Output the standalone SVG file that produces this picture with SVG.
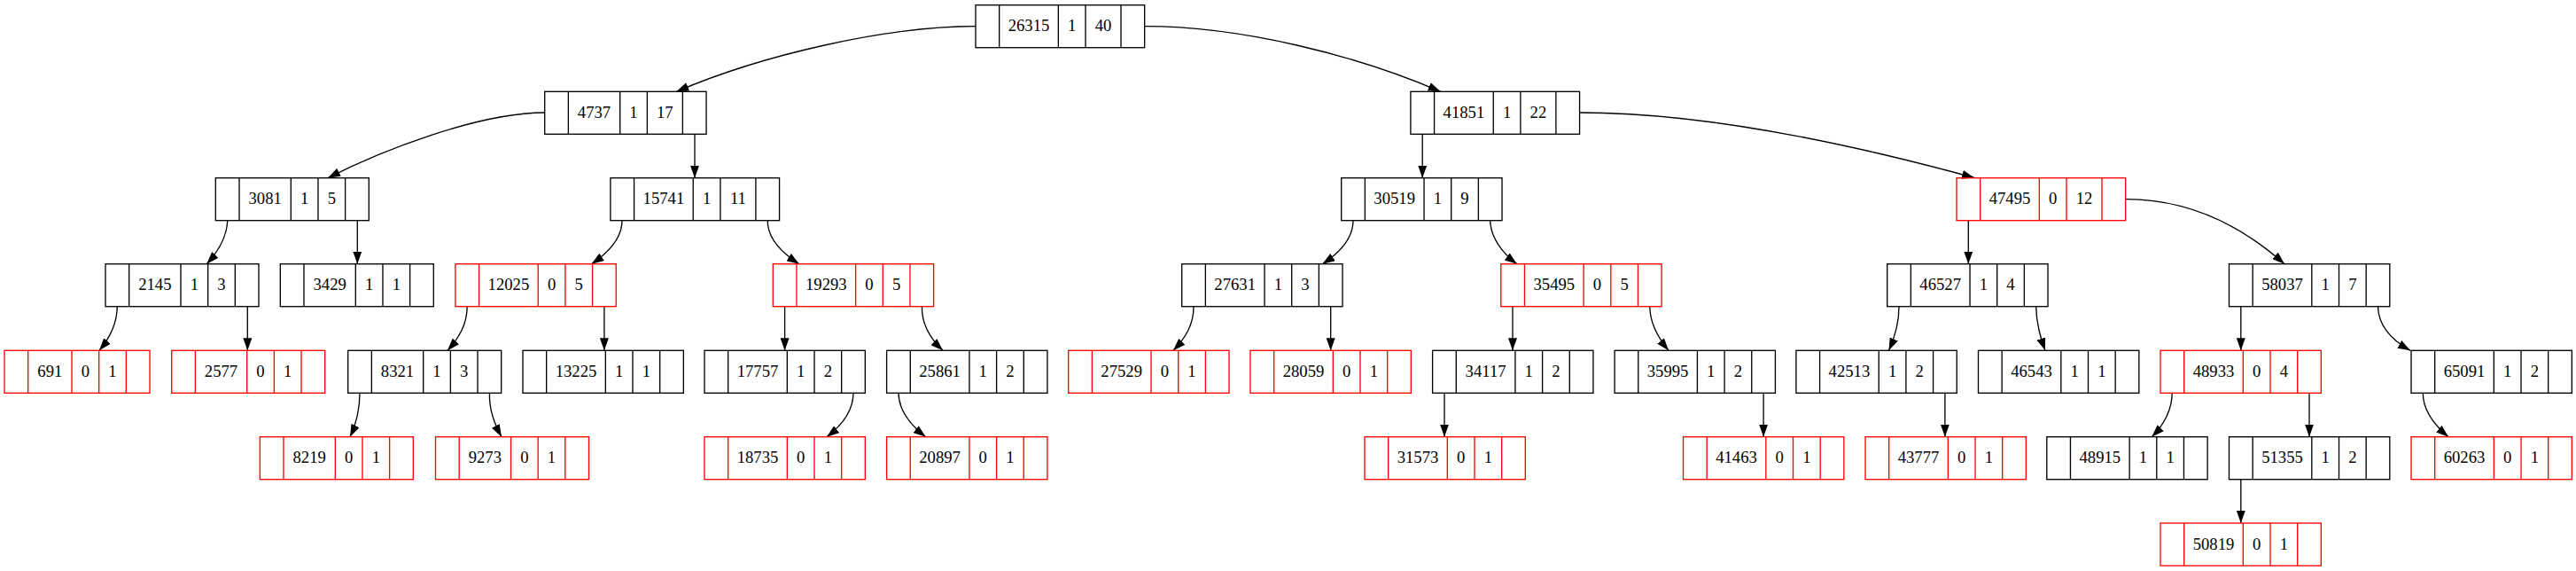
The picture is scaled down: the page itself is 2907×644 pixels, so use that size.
<svg xmlns="http://www.w3.org/2000/svg" width="2907" height="644" viewBox="0 0 2907 644">
<style>
text{font-family:"Liberation Serif","Times New Roman",serif;font-size:18.67px;text-anchor:middle;fill:#000}
.b{stroke:#000}
.r{stroke:#ff0000}
.fr{fill:none;stroke-width:1.33}
#edges path{fill:none;stroke:#000;stroke-width:1.33;marker-end:url(#ah)}
</style>
<defs>
<marker id="ah" viewBox="0 0 14 10" refX="14" refY="5" markerWidth="14" markerHeight="10" markerUnits="userSpaceOnUse" orient="auto"><path d="M0,0 L14,5 L0,10 z" fill="#000"/></marker>
<g id="k5s1" class="fr"><rect x="0" y="0" width="181.33" height="48"/><path d="M26.67,0V48M93.33,0V48M124,0V48M154.67,0V48"/></g>
<g id="k5s2" class="fr"><rect x="0" y="0" width="190.67" height="48"/><path d="M26.67,0V48M93.33,0V48M124,0V48M164,0V48"/></g>
<g id="k4s1" class="fr"><rect x="0" y="0" width="173" height="48"/><path d="M26.67,0V48M85,0V48M115.67,0V48M146.33,0V48"/></g>
<g id="k4s2" class="fr"><rect x="0" y="0" width="182.33" height="48"/><path d="M26.67,0V48M85,0V48M115.67,0V48M155.67,0V48"/></g>
<g id="k3s1" class="fr"><rect x="0" y="0" width="164" height="48"/><path d="M26.67,0V48M76,0V48M106.67,0V48M137.33,0V48"/></g>
</defs>
<rect width="2907" height="644" fill="#fff"/>
<g id="edges">
<path d="M1101,29.7 C1000,29.7 860,62 763.3,103.3"/>
<path d="M1292,29.7 C1400,29.7 1530,62 1625.6,103.3"/>
<path d="M614.7,127 C540,127 430,170 370,200.7"/>
<path d="M784,151 L784,200.7"/>
<path d="M256.7,248.7 C256,268 246,284 233.3,297.7"/>
<path d="M403.3,248.7 L403.3,297.7"/>
<path d="M132.3,345.7 C132,366 124,381 112,395.3"/>
<path d="M279.3,345.7 L279.3,395.3"/>
<path d="M702,248.7 C702,268 688,284 667.5,297.7"/>
<path d="M866.3,248.7 C866,268 882,285 901.9,297.7"/>
<path d="M527.2,345.7 C527,366 518,381 505,395.3"/>
<path d="M681.9,345.7 L681.9,395.3"/>
<path d="M406,442.7 C406,463 402,478 395,492.7"/>
<path d="M552.4,442.7 C552,463 558,478 566,492.7"/>
<path d="M885.6,345.7 L885.6,395.3"/>
<path d="M1040.4,345.7 C1040,366 1050,382 1064,395.3"/>
<path d="M963,442.7 C963,463 951,479 933,492.7"/>
<path d="M1014,442.7 C1014,463 1027,479 1044.7,492.7"/>
<path d="M1605.2,151 L1605.2,200.7"/>
<path d="M1782.6,127 C1920,127 2080,160 2228,200.5"/>
<path d="M1527,248.7 C1527,268 1512,285 1492.3,297.7"/>
<path d="M1681.7,248.7 C1682,268 1696,286 1712,297.7"/>
<path d="M1347,345.7 C1347,366 1338,381 1324,395.3"/>
<path d="M1501.7,345.7 L1501.7,395.3"/>
<path d="M1707,345.7 L1707,395.3"/>
<path d="M1861.8,345.7 C1862,366 1872,382 1883,395.3"/>
<path d="M1630,442.7 L1630,492.7"/>
<path d="M1990.1,442.7 L1990.1,492.7"/>
<path d="M2221.3,248.7 L2221.3,297.7"/>
<path d="M2398.7,224.7 C2470,224.7 2530,255 2578,297.7"/>
<path d="M2143,345.7 C2143,366 2138,381 2131.5,395.3"/>
<path d="M2297.7,345.7 C2298,366 2303,381 2308,395.3"/>
<path d="M2194.9,442.7 L2194.9,492.7"/>
<path d="M2528.8,345.7 L2528.8,395.3"/>
<path d="M2683.5,345.7 C2684,368 2700,384 2720,395.3"/>
<path d="M2451.3,442.7 C2451,463 2442,479 2428.3,492.7"/>
<path d="M2606,442.7 L2606,492.7"/>
<path d="M2528.8,540.7 L2528.8,590"/>
<path d="M2734.3,442.7 C2734,463 2748,480 2763,492.7"/>
</g>
<g id="n26315" transform="translate(1101,5.7)"><use href="#k5s2" class="b"/><text x="60" y="29.8">26315</text><text x="108.67" y="29.8">1</text><text x="144" y="29.8">40</text></g>
<g id="n4737" transform="translate(614.7,103.3)"><use href="#k4s2" class="b"/><text x="55.83" y="29.8">4737</text><text x="100.33" y="29.8">1</text><text x="135.67" y="29.8">17</text></g>
<g id="n41851" transform="translate(1591.9,103.3)"><use href="#k5s2" class="b"/><text x="60" y="29.8">41851</text><text x="108.67" y="29.8">1</text><text x="144" y="29.8">22</text></g>
<g id="n3081" transform="translate(243.3,200.7)"><use href="#k4s1" class="b"/><text x="55.83" y="29.8">3081</text><text x="100.33" y="29.8">1</text><text x="131" y="29.8">5</text></g>
<g id="n15741" transform="translate(688.9,200.7)"><use href="#k5s2" class="b"/><text x="60" y="29.8">15741</text><text x="108.67" y="29.8">1</text><text x="144" y="29.8">11</text></g>
<g id="n30519" transform="translate(1513.7,200.7)"><use href="#k5s1" class="b"/><text x="60" y="29.8">30519</text><text x="108.67" y="29.8">1</text><text x="139.33" y="29.8">9</text></g>
<g id="n47495" transform="translate(2208,200.7)"><use href="#k5s2" class="r"/><text x="60" y="29.8">47495</text><text x="108.67" y="29.8">0</text><text x="144" y="29.8">12</text></g>
<g id="n2145" transform="translate(119,297.7)"><use href="#k4s1" class="b"/><text x="55.83" y="29.8">2145</text><text x="100.33" y="29.8">1</text><text x="131" y="29.8">3</text></g>
<g id="n3429" transform="translate(316.3,297.7)"><use href="#k4s1" class="b"/><text x="55.83" y="29.8">3429</text><text x="100.33" y="29.8">1</text><text x="131" y="29.8">1</text></g>
<g id="n12025" transform="translate(513.9,297.7)"><use href="#k5s1" class="r"/><text x="60" y="29.8">12025</text><text x="108.67" y="29.8">0</text><text x="139.33" y="29.8">5</text></g>
<g id="n19293" transform="translate(872.3,297.7)"><use href="#k5s1" class="r"/><text x="60" y="29.8">19293</text><text x="108.67" y="29.8">0</text><text x="139.33" y="29.8">5</text></g>
<g id="n27631" transform="translate(1333.7,297.7)"><use href="#k5s1" class="b"/><text x="60" y="29.8">27631</text><text x="108.67" y="29.8">1</text><text x="139.33" y="29.8">3</text></g>
<g id="n35495" transform="translate(1693.8,297.7)"><use href="#k5s1" class="r"/><text x="60" y="29.8">35495</text><text x="108.67" y="29.8">0</text><text x="139.33" y="29.8">5</text></g>
<g id="n46527" transform="translate(2129.7,297.7)"><use href="#k5s1" class="b"/><text x="60" y="29.8">46527</text><text x="108.67" y="29.8">1</text><text x="139.33" y="29.8">4</text></g>
<g id="n58037" transform="translate(2515.5,297.7)"><use href="#k5s1" class="b"/><text x="60" y="29.8">58037</text><text x="108.67" y="29.8">1</text><text x="139.33" y="29.8">7</text></g>
<g id="n691" transform="translate(5,395.3)"><use href="#k3s1" class="r"/><text x="51.33" y="29.8">691</text><text x="91.33" y="29.8">0</text><text x="122" y="29.8">1</text></g>
<g id="n2577" transform="translate(193.7,395.3)"><use href="#k4s1" class="r"/><text x="55.83" y="29.8">2577</text><text x="100.33" y="29.8">0</text><text x="131" y="29.8">1</text></g>
<g id="n8321" transform="translate(392.7,395.3)"><use href="#k4s1" class="b"/><text x="55.83" y="29.8">8321</text><text x="100.33" y="29.8">1</text><text x="131" y="29.8">3</text></g>
<g id="n13225" transform="translate(590,395.3)"><use href="#k5s1" class="b"/><text x="60" y="29.8">13225</text><text x="108.67" y="29.8">1</text><text x="139.33" y="29.8">1</text></g>
<g id="n17757" transform="translate(795,395.3)"><use href="#k5s1" class="b"/><text x="60" y="29.8">17757</text><text x="108.67" y="29.8">1</text><text x="139.33" y="29.8">2</text></g>
<g id="n25861" transform="translate(1000.6,395.3)"><use href="#k5s1" class="b"/><text x="60" y="29.8">25861</text><text x="108.67" y="29.8">1</text><text x="139.33" y="29.8">2</text></g>
<g id="n27529" transform="translate(1205.7,395.3)"><use href="#k5s1" class="r"/><text x="60" y="29.8">27529</text><text x="108.67" y="29.8">0</text><text x="139.33" y="29.8">1</text></g>
<g id="n28059" transform="translate(1411,395.3)"><use href="#k5s1" class="r"/><text x="60" y="29.8">28059</text><text x="108.67" y="29.8">0</text><text x="139.33" y="29.8">1</text></g>
<g id="n34117" transform="translate(1616.6,395.3)"><use href="#k5s1" class="b"/><text x="60" y="29.8">34117</text><text x="108.67" y="29.8">1</text><text x="139.33" y="29.8">2</text></g>
<g id="n35995" transform="translate(1822.1,395.3)"><use href="#k5s1" class="b"/><text x="60" y="29.8">35995</text><text x="108.67" y="29.8">1</text><text x="139.33" y="29.8">2</text></g>
<g id="n42513" transform="translate(2026.9,395.3)"><use href="#k5s1" class="b"/><text x="60" y="29.8">42513</text><text x="108.67" y="29.8">1</text><text x="139.33" y="29.8">2</text></g>
<g id="n46543" transform="translate(2232.5,395.3)"><use href="#k5s1" class="b"/><text x="60" y="29.8">46543</text><text x="108.67" y="29.8">1</text><text x="139.33" y="29.8">1</text></g>
<g id="n48933" transform="translate(2438,395.3)"><use href="#k5s1" class="r"/><text x="60" y="29.8">48933</text><text x="108.67" y="29.8">0</text><text x="139.33" y="29.8">4</text></g>
<g id="n65091" transform="translate(2721,395.3)"><use href="#k5s1" class="b"/><text x="60" y="29.8">65091</text><text x="108.67" y="29.8">1</text><text x="139.33" y="29.8">2</text></g>
<g id="n8219" transform="translate(293.3,492.7)"><use href="#k4s1" class="r"/><text x="55.83" y="29.8">8219</text><text x="100.33" y="29.8">0</text><text x="131" y="29.8">1</text></g>
<g id="n9273" transform="translate(491.5,492.7)"><use href="#k4s1" class="r"/><text x="55.83" y="29.8">9273</text><text x="100.33" y="29.8">0</text><text x="131" y="29.8">1</text></g>
<g id="n18735" transform="translate(795,492.7)"><use href="#k5s1" class="r"/><text x="60" y="29.8">18735</text><text x="108.67" y="29.8">0</text><text x="139.33" y="29.8">1</text></g>
<g id="n20897" transform="translate(1000.6,492.7)"><use href="#k5s1" class="r"/><text x="60" y="29.8">20897</text><text x="108.67" y="29.8">0</text><text x="139.33" y="29.8">1</text></g>
<g id="n31573" transform="translate(1540,492.7)"><use href="#k5s1" class="r"/><text x="60" y="29.8">31573</text><text x="108.67" y="29.8">0</text><text x="139.33" y="29.8">1</text></g>
<g id="n41463" transform="translate(1899.5,492.7)"><use href="#k5s1" class="r"/><text x="60" y="29.8">41463</text><text x="108.67" y="29.8">0</text><text x="139.33" y="29.8">1</text></g>
<g id="n43777" transform="translate(2105,492.7)"><use href="#k5s1" class="r"/><text x="60" y="29.8">43777</text><text x="108.67" y="29.8">0</text><text x="139.33" y="29.8">1</text></g>
<g id="n48915" transform="translate(2309.8,492.7)"><use href="#k5s1" class="b"/><text x="60" y="29.8">48915</text><text x="108.67" y="29.8">1</text><text x="139.33" y="29.8">1</text></g>
<g id="n51355" transform="translate(2515.5,492.7)"><use href="#k5s1" class="b"/><text x="60" y="29.8">51355</text><text x="108.67" y="29.8">1</text><text x="139.33" y="29.8">2</text></g>
<g id="n60263" transform="translate(2721,492.7)"><use href="#k5s1" class="r"/><text x="60" y="29.8">60263</text><text x="108.67" y="29.8">0</text><text x="139.33" y="29.8">1</text></g>
<g id="n50819" transform="translate(2438,590)"><use href="#k5s1" class="r"/><text x="60" y="29.8">50819</text><text x="108.67" y="29.8">0</text><text x="139.33" y="29.8">1</text></g>
</svg>
